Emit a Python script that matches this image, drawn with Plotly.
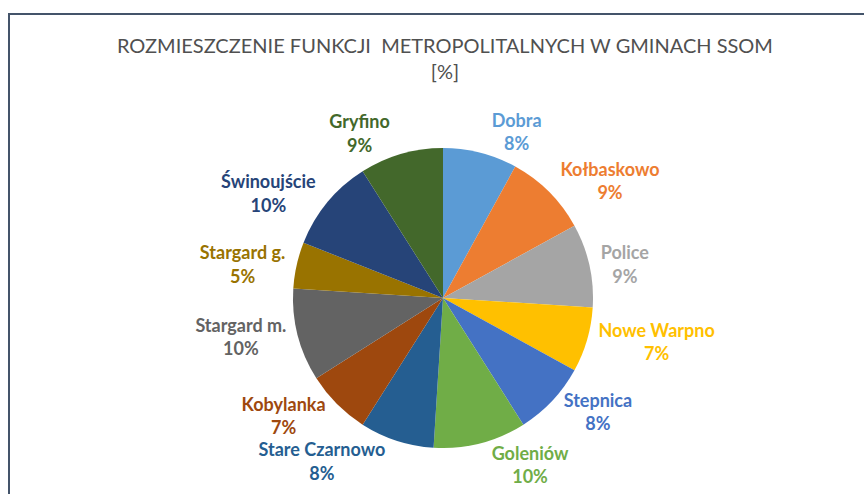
import plotly.graph_objects as go

labels = ["Dobra", "Kołbaskowo", "Police", "Nowe Warpno", "Stepnica", "Goleniów",
          "Stare Czarnowo", "Kobylanka", "Stargard m.", "Stargard g.", "Świnoujście", "Gryfino"]
values = [8, 9, 9, 7, 8, 10, 8, 7, 10, 5, 10, 9]
colors = ["#5B9BD5", "#ED7D31", "#A5A5A5", "#FFC000", "#4472C4", "#70AD47",
          "#255E91", "#9E480E", "#636363", "#997300", "#264478", "#43682B"]

W, H = 864, 494
cx, cy, r = 443, 298, 150

fig = go.Figure(go.Pie(
    labels=labels,
    values=values,
    sort=False,
    direction="clockwise",
    rotation=0,
    marker=dict(colors=colors, line=dict(width=0)),
    textposition="outside",
    texttemplate="%{label}<br>%{value}%",
    outsidetextfont=dict(color=colors, size=18, family="Lato", weight="bold"),
    showlegend=False,
    domain=dict(x=[(cx - r) / W, (cx + r) / W], y=[(H - cy - r) / H, (H - cy + r) / H]),
    hoverinfo="label+percent",
))

fig.update_layout(
    width=W, height=H,
    margin=dict(l=0, r=0, t=0, b=0),
    paper_bgcolor="white",
    title=dict(
        text="ROZMIESZCZENIE FUNKCJI  METROPOLITALNYCH W GMINACH SSOM<br>[%]",
        x=0.515, xanchor="center", y=1 - 53 / H, yanchor="top",
        font=dict(family="Lato", size=20, color="#505050"),
    ),
    shapes=[dict(type="rect", xref="paper", yref="paper",
                 x0=9 / W, x1=1.05, y0=-0.05, y1=1 - 14 / H,
                 line=dict(color="#44546A", width=2))],
)

fig.write_html("out.html", config={"displayModeBar": False},
               post_script="document.body.style.margin='0';")
